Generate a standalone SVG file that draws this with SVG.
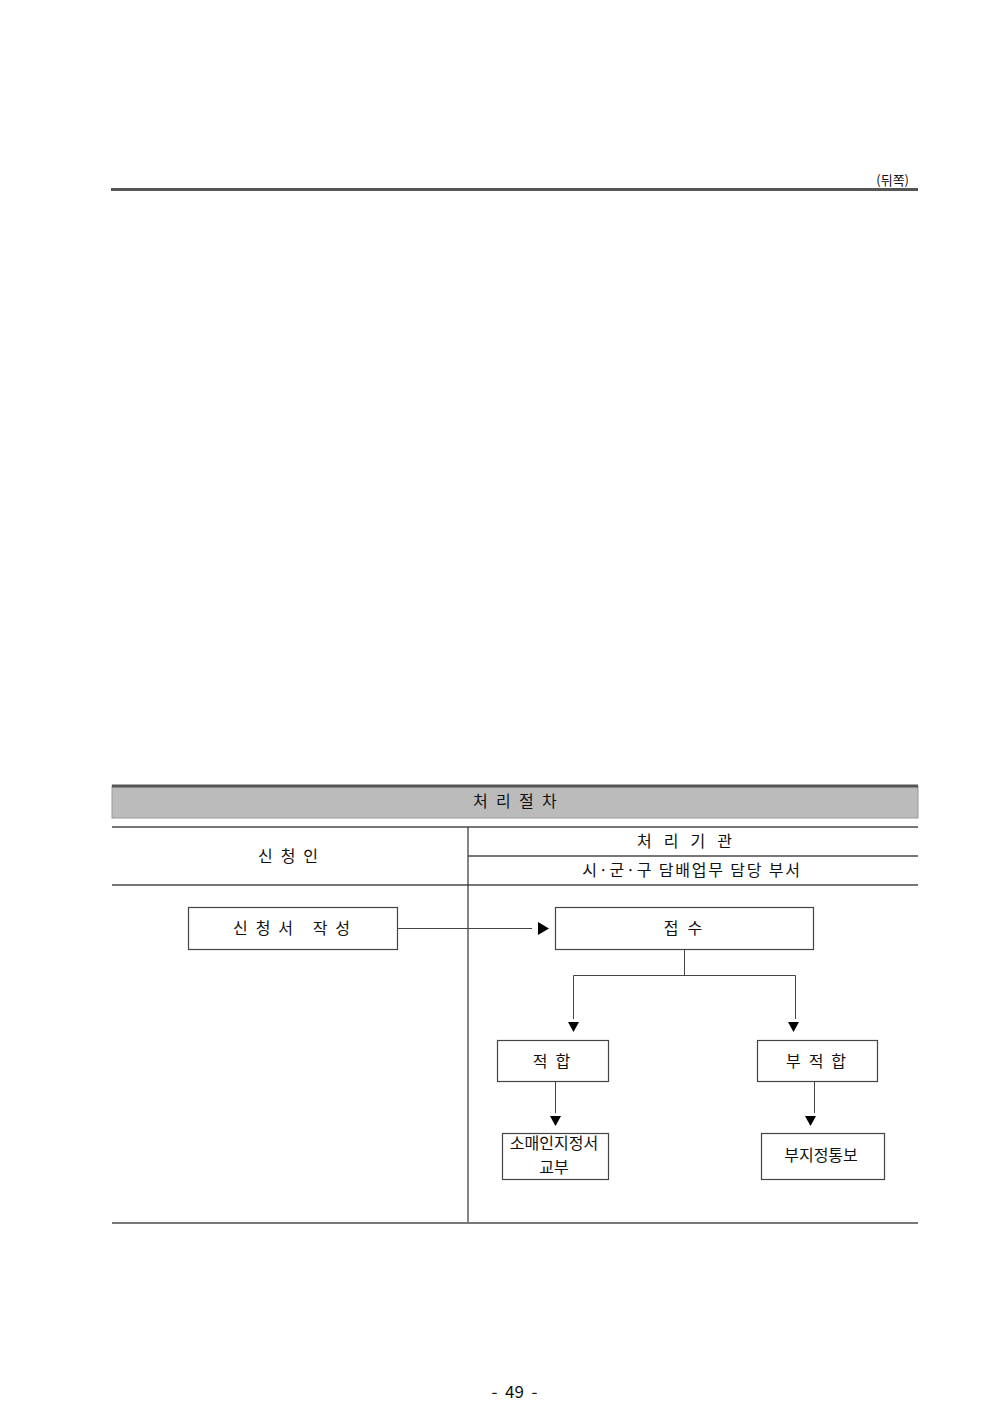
<svg xmlns="http://www.w3.org/2000/svg" width="1000" height="1409" viewBox="0 0 1000 1409">
<style>
text{font-family:"Noto Sans CJK KR","Noto Sans",sans-serif;fill:#111;}
.lbl{font-size:16px;text-anchor:middle;}
.box{fill:#fff;stroke:#444;stroke-width:1.2;}
.rule{stroke:#777;stroke-width:2;}
.conn{stroke:#444;stroke-width:1;fill:none;}
.head{fill:#000;}
</style>
<rect width="1000" height="1409" fill="#fff"/>
<text x="909" y="185" font-size="13" text-anchor="end">(뒤쪽)</text>
<line x1="111" y1="189.5" x2="918" y2="189.5" stroke="#555" stroke-width="3"/>

<g id="table">
<rect x="112" y="786" width="806" height="32" fill="#bbbbbb" stroke="#999" stroke-width="1"/>
<line x1="112" y1="786" x2="918" y2="786" stroke="#555" stroke-width="3"/>
<text class="lbl" x="519" y="807" letter-spacing="8.3">처리절차</text>
<line class="rule" x1="112" y1="827" x2="918" y2="827"/>
<line class="rule" x1="468" y1="856" x2="918" y2="856"/>
<line class="rule" x1="112" y1="885" x2="918" y2="885"/>
<line x1="468" y1="827" x2="468" y2="1223" stroke="#333" stroke-width="1.2"/>
<line class="rule" x1="112" y1="1223" x2="918" y2="1223"/>
<text class="lbl" x="292" y="862" letter-spacing="8">신청인</text>
<text class="lbl" x="690.5" y="847" letter-spacing="12">처리기관</text>
<text class="lbl" x="692" y="876" letter-spacing="1.8">시·군·구 담배업무 담당 부서</text>
</g>

<g id="n-apply"><rect class="box" x="188.5" y="907.5" width="209" height="42"/><text class="lbl" x="295.5" y="934" letter-spacing="8">신청서 작성</text></g>
<g id="n-receive"><rect class="box" x="555.5" y="907.5" width="258" height="42"/><text class="lbl" x="687.5" y="934" letter-spacing="9">접수</text></g>
<g id="n-ok"><rect class="box" x="497.5" y="1040.5" width="111" height="41"/><text class="lbl" x="555.5" y="1067" letter-spacing="8">적합</text></g>
<g id="n-ng"><rect class="box" x="757.5" y="1040.5" width="120" height="41"/><text class="lbl" x="820" y="1067" letter-spacing="8">부적합</text></g>
<g id="n-issue"><rect class="box" x="502.5" y="1133.5" width="106" height="46"/><text class="lbl" x="554" y="1149">소매인지정서</text><text class="lbl" x="554" y="1173">교부</text></g>
<g id="n-notice"><rect class="box" x="761.5" y="1133.5" width="123" height="46"/><text class="lbl" x="821" y="1161">부지정통보</text></g>

<g id="connectors">
<path class="conn" d="M397 928.5 H532"/>
<polygon class="head" points="538,922 549,928.5 538,935"/>
<path class="conn" d="M684.5 950 V975.5 M573.5 975.5 H795.5 M573.5 975.5 V1019 M795.5 975.5 V1019"/>
<polygon class="head" points="568,1022 579,1022 573.5,1032"/>
<polygon class="head" points="788,1022 799,1022 793.5,1032"/>
<path class="conn" d="M555.5 1082 V1113 M814.5 1082 V1113"/>
<polygon class="head" points="550,1116 561,1116 555.5,1126"/>
<polygon class="head" points="805,1116 816,1116 810.5,1126"/>
</g>

<text x="514.5" y="1398" font-size="17" text-anchor="middle" style="white-space:pre" font-family="Liberation Sans,sans-serif">-  49  -</text>
</svg>
